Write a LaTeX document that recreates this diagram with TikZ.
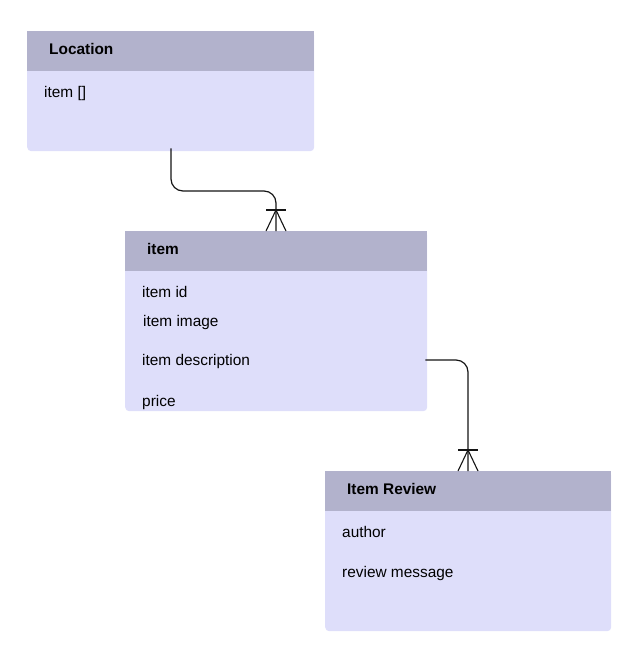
\documentclass[tikz,border=0pt]{standalone}
\usepackage{fontspec}
\setmainfont{Liberation Sans}
\definecolor{headc}{RGB}{178,178,204}
\definecolor{bodyc}{RGB}{222,222,250}
\definecolor{linec}{RGB}{20,20,20}
\begin{document}
\begin{tikzpicture}[x=1pt,y=-1pt,
  bodybox/.style={fill=bodyc, rounded corners=4pt, anchor=north west, inner sep=0pt},
  headbox/.style={fill=headc, anchor=north west, inner sep=0pt, minimum height=40pt},
  title/.style={anchor=west, inner sep=0pt, font=\fontsize{15.4}{18}\selectfont\bfseries},
  field/.style={anchor=west, inner sep=0pt, text height=11pt, text depth=0pt, font=\fontsize{15.4}{18}\selectfont},
  conn/.style={draw=linec, line width=1.2pt, rounded corners=12pt},
  crow/.style={draw=linec, line width=1.1pt}]
\useasboundingbox (0,0) rectangle (639,656);
% Location
\node[bodybox, minimum width=287pt, minimum height=120pt] (loc) at (27,31) {};
\node[headbox, minimum width=287pt] (loch) at (27,31) {};
\node[title] (loct) at (49,49) {Location};
\node[field] (locf1) at (44,92) {item []};
% item
\node[bodybox, minimum width=302pt, minimum height=180pt] (itm) at (125,231) {};
\node[headbox, minimum width=302pt] (itmh) at (125,231) {};
\node[title] (itmt) at (147,249) {item};
\node[field] (itmf1) at (142,292) {item id};
\node[field] (itmf2) at (143,321) {item image};
\node[field] (itmf3) at (142,360) {item description};
\node[field] (itmf4) at (142,401) {price};
% Item Review
\node[bodybox, minimum width=286pt, minimum height=160pt] (rev) at (325,471) {};
\node[headbox, minimum width=286pt] (revh) at (325,471) {};
\node[title] (revt) at (347,489) {Item Review};
\node[field] (revf1) at (342,532) {author};
\node[field] (revf2) at (342,572) {review message};
% connector Location -> item
\coordinate (c1s) at (loc.south -| 171,0);
\coordinate (c1e) at (itmh.north -| 276,0);
\coordinate (c1b) at (276,210);
\draw[conn] ([yshift=3pt]c1s) -- (171,191) -- (276,191) -- (c1e);
\draw[crow] ([xshift=-10pt]c1b) -- ([xshift=10pt]c1b);
\draw[crow] ([xshift=-10pt]c1e) -- (c1b) -- ([xshift=10pt]c1e);
% connector item -> Item Review
\coordinate (c2s) at (itm.east |- 0,360);
\coordinate (c2e) at (revh.north -| 468,0);
\coordinate (c2b) at (468,450);
\draw[conn] ([xshift=-2pt]c2s) -- (468,360) -- (c2e);
\draw[crow] ([xshift=-10pt]c2b) -- ([xshift=10pt]c2b);
\draw[crow] ([xshift=-10pt]c2e) -- (c2b) -- ([xshift=10pt]c2e);
\end{tikzpicture}
\end{document}
